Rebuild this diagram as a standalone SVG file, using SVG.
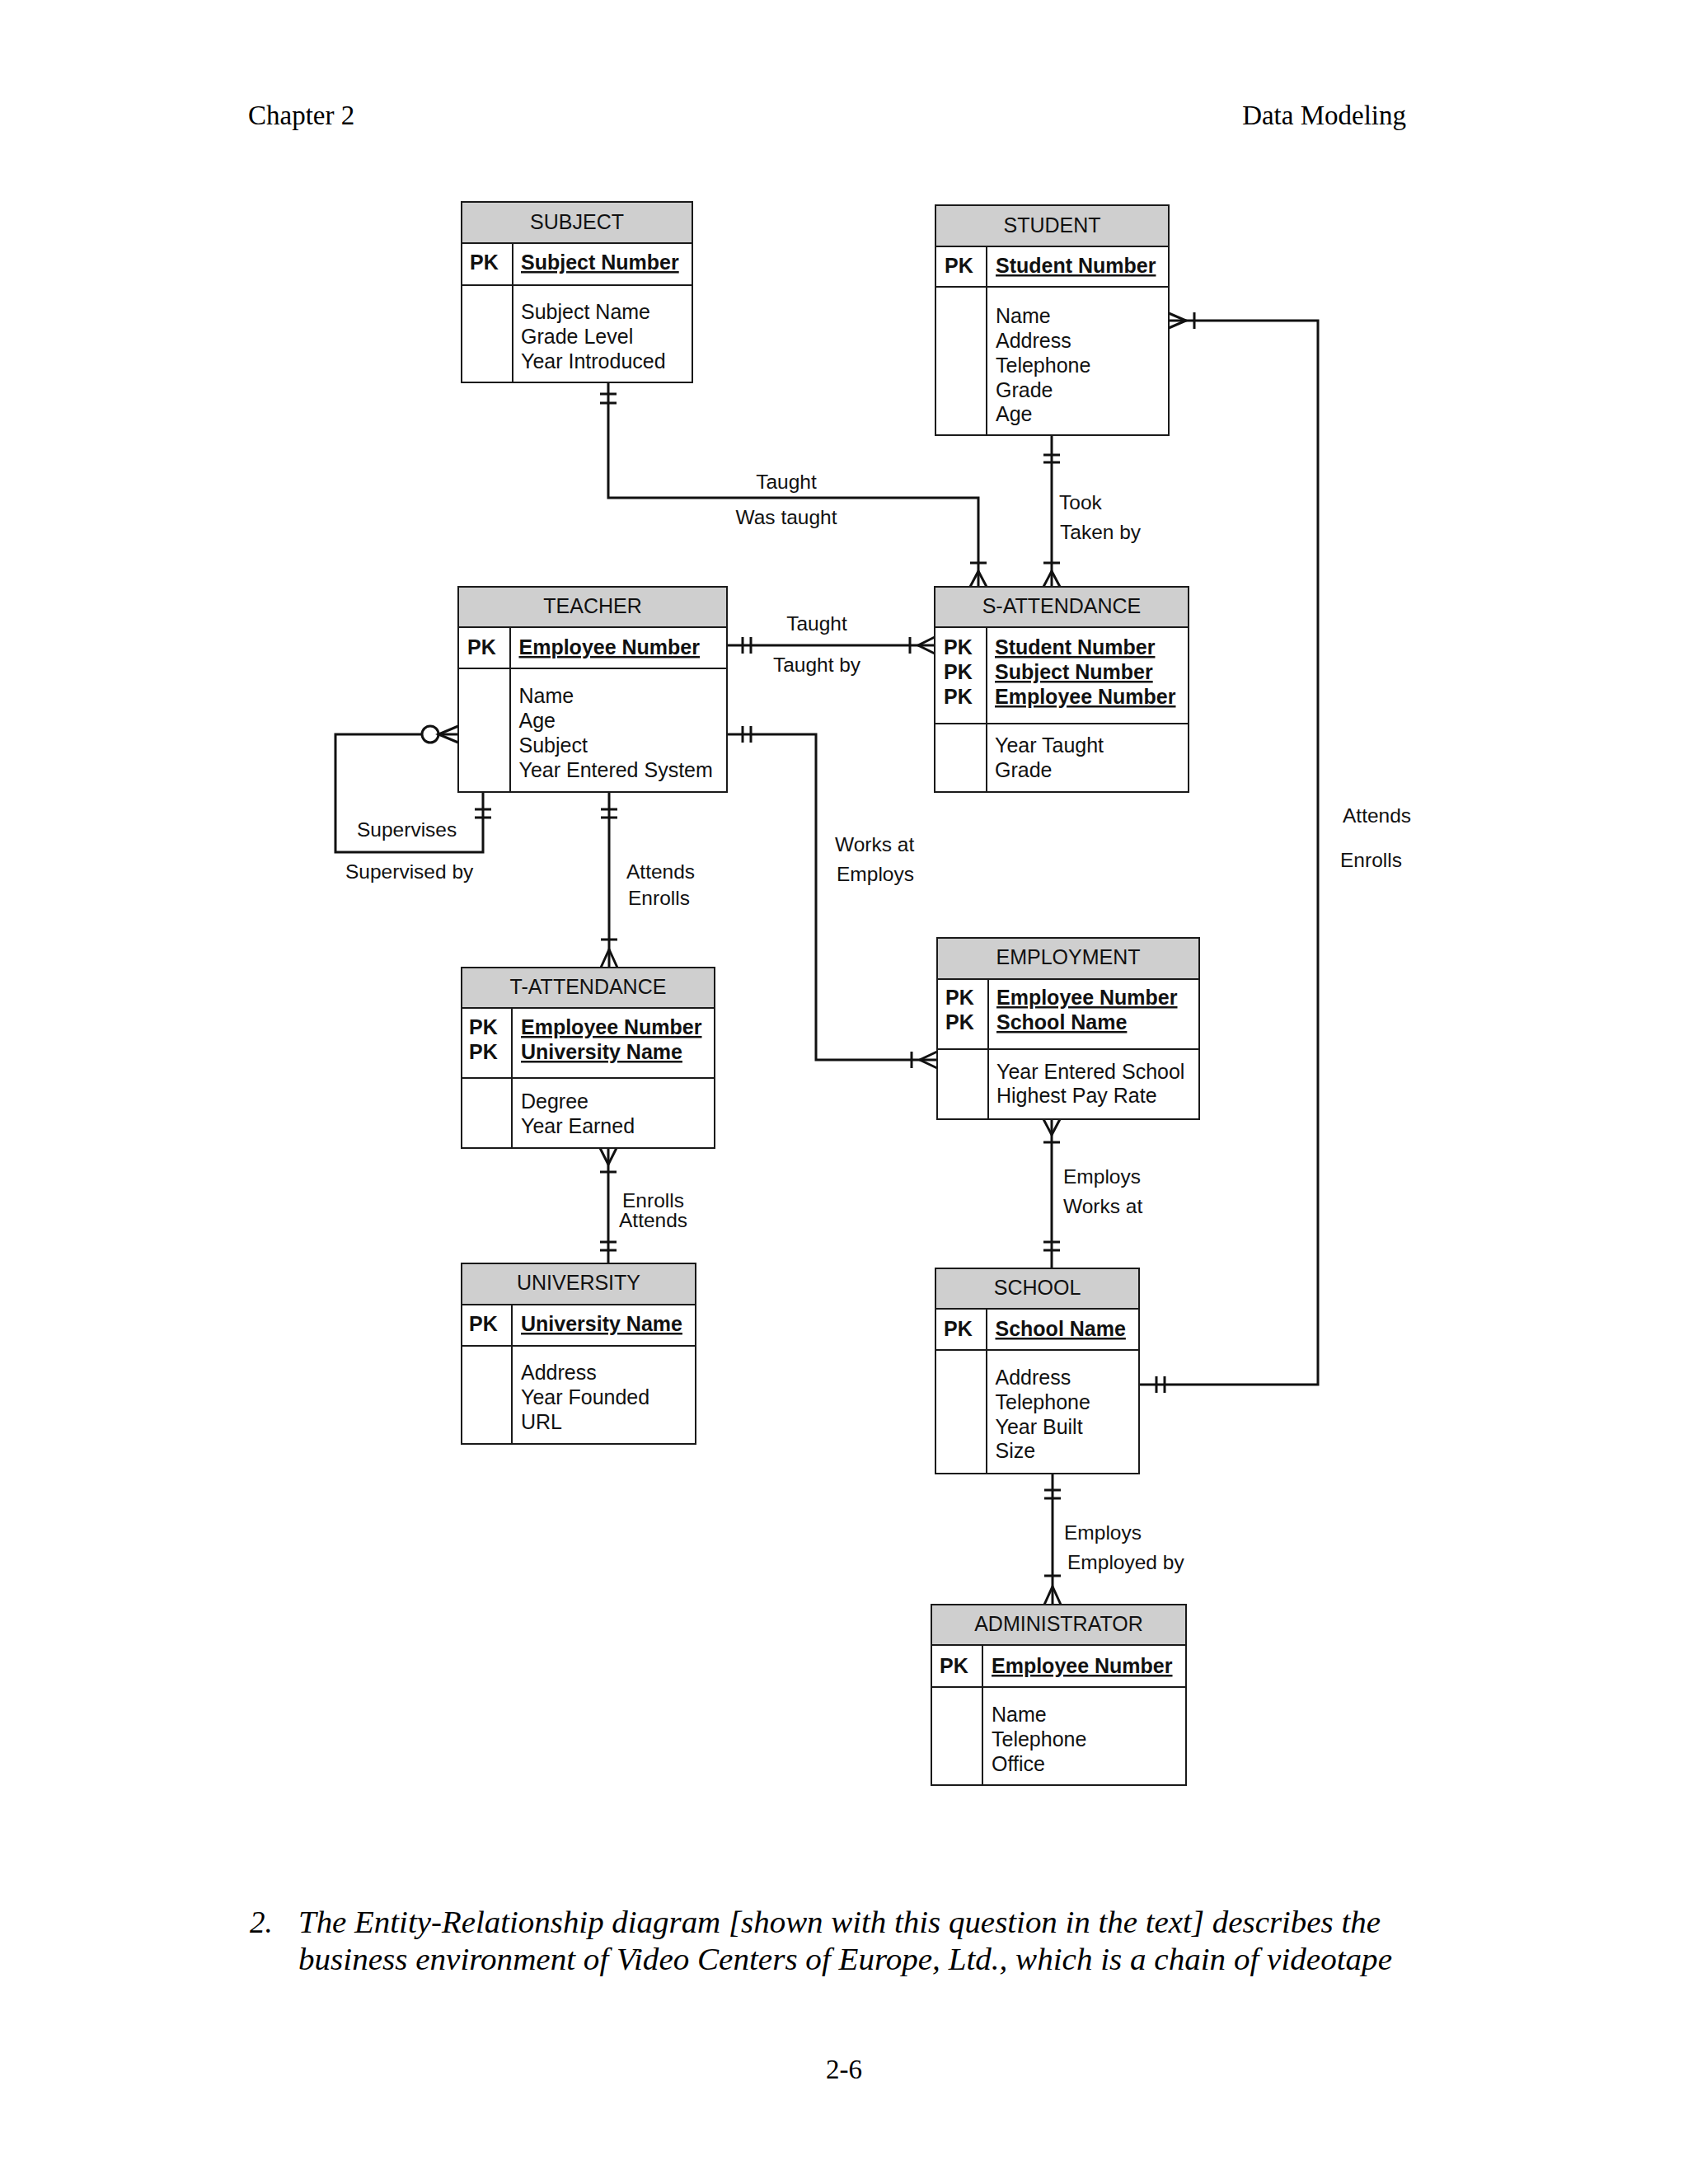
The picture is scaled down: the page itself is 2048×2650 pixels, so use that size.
<svg xmlns="http://www.w3.org/2000/svg" width="2048" height="2650" viewBox="0 0 2048 2650">
<style>
.bg{fill:#fff}
.box{fill:#fff;stroke:#1a1a1a;stroke-width:2}
.hdr{fill:#cfcfcf;stroke:#1a1a1a;stroke-width:2}
.sep{stroke:#1a1a1a;stroke-width:2}
.t{font-family:"Liberation Sans",Arial,sans-serif;font-size:25px;fill:#111}
.b{font-weight:bold}
.u{text-decoration:underline}
.c{text-anchor:middle}
.lbl{font-family:"Liberation Sans",Arial,sans-serif;font-size:24.5px;fill:#111}
.ln{fill:none;stroke:#111;stroke-width:3}
.mk{fill:none;stroke:#111;stroke-width:3}
.pg{font-family:"Liberation Serif","Times New Roman",serif;font-size:33px;fill:#000}
.q{font-family:"Liberation Serif","Times New Roman",serif;font-size:37px;font-style:italic;fill:#000}
</style>
<rect class="bg" x="0" y="0" width="2048" height="2650"/>

<g id="page">
<text class="pg" x="301" y="151">Chapter 2</text>
<text class="pg" x="1706" y="151" text-anchor="end">Data Modeling</text>
<text class="q" x="303" y="2345">2.</text>
<text class="q" x="362" y="2345" textLength="1313" lengthAdjust="spacingAndGlyphs">The Entity-Relationship diagram [shown with this question in the text] describes the</text>
<text class="q" x="362" y="2390" textLength="1327" lengthAdjust="spacingAndGlyphs">business environment of Video Centers of Europe, Ltd., which is a chain of videotape</text>
<text class="pg" x="1024" y="2522" text-anchor="middle">2-6</text>
</g>

<g id="connectors">
<!-- SUBJECT - S-ATTENDANCE -->
<path class="ln" d="M738,464 V604 H1187 V712"/>
<path class="mk" d="M728,478 H748 M728,489 H748 M1177,683 H1197 M1177,712 L1187,693 L1197,712"/>
<!-- STUDENT - S-ATTENDANCE -->
<path class="ln" d="M1276,528 V712"/>
<path class="mk" d="M1266,552 H1286 M1266,561 H1286 M1266,683 H1286 M1266,712 L1276,693 L1286,712"/>
<!-- TEACHER - S-ATTENDANCE -->
<path class="ln" d="M882,783 H1134"/>
<path class="mk" d="M901,773 V793 M911,773 V793 M1104,773 V793 M1134,773 L1114,783 L1134,793"/>
<!-- TEACHER self (supervises) -->
<path class="ln" d="M556,891 H407 V1034 H586 V961"/>
<circle cx="522" cy="891" r="10" fill="#fff" stroke="#111" stroke-width="3"/>
<path class="mk" d="M556,881 L532,891 L556,901 M576,982 H596 M576,992 H596"/>
<!-- TEACHER - T-ATTENDANCE -->
<path class="ln" d="M739,961 V1174"/>
<path class="mk" d="M729,982 H749 M729,992 H749 M729,1140 H749 M729,1174 L739,1152 L749,1174"/>
<!-- TEACHER - EMPLOYMENT -->
<path class="ln" d="M882,891 H990 V1286 H1137"/>
<path class="mk" d="M901,881 V901 M911,881 V901 M1106,1276 V1296 M1137,1276 L1116,1286 L1137,1296"/>
<!-- T-ATTENDANCE - UNIVERSITY -->
<path class="ln" d="M738,1393 V1533"/>
<path class="mk" d="M728,1393 L738,1413 L748,1393 M728,1422 H748 M728,1507 H748 M728,1517 H748"/>
<!-- EMPLOYMENT - SCHOOL -->
<path class="ln" d="M1276,1358 V1539"/>
<path class="mk" d="M1266,1358 L1276,1377 L1286,1358 M1266,1386 H1286 M1266,1507 H1286 M1266,1517 H1286"/>
<!-- SCHOOL - ADMINISTRATOR -->
<path class="ln" d="M1277,1788 V1947"/>
<path class="mk" d="M1267,1808 H1287 M1267,1818 H1287 M1267,1912 H1287 M1267,1947 L1277,1925 L1287,1947"/>
<!-- STUDENT - SCHOOL -->
<path class="ln" d="M1418,389 H1599 V1680 H1382"/>
<path class="mk" d="M1418,380 L1439,389 L1418,398 M1449,379 V399 M1403,1670 V1690 M1413,1670 V1690"/>

<text class="lbl c" x="954" y="593">Taught</text>
<text class="lbl c" x="954" y="636">Was taught</text>
<text class="lbl" x="1285" y="618">Took</text>
<text class="lbl" x="1286" y="654">Taken by</text>
<text class="lbl c" x="991" y="765">Taught</text>
<text class="lbl c" x="991" y="815">Taught by</text>
<text class="lbl" x="433" y="1015">Supervises</text>
<text class="lbl" x="419" y="1066">Supervised by</text>
<text class="lbl" x="760" y="1066">Attends</text>
<text class="lbl" x="762" y="1098">Enrolls</text>
<text class="lbl" x="1013" y="1033">Works at</text>
<text class="lbl" x="1015" y="1069">Employs</text>
<text class="lbl" x="755" y="1465">Enrolls</text>
<text class="lbl" x="751" y="1489">Attends</text>
<text class="lbl" x="1290" y="1436">Employs</text>
<text class="lbl" x="1290" y="1472">Works at</text>
<text class="lbl" x="1291" y="1868">Employs</text>
<text class="lbl" x="1295" y="1904">Employed by</text>
<text class="lbl" x="1629" y="998">Attends</text>
<text class="lbl" x="1626" y="1052">Enrolls</text>
</g>

<g id="subject">
<rect class="box" x="560" y="245" width="280" height="219"/>
<rect class="hdr" x="560" y="245" width="280" height="50"/>
<line class="sep" x1="560" y1="346" x2="840" y2="346"/>
<line class="sep" x1="622" y1="295" x2="622" y2="464"/>
<text class="t c" x="700" y="278">SUBJECT</text>
<text class="t b" x="570" y="327">PK</text>
<text class="t b u" x="632" y="327">Subject Number</text>
<text class="t" x="632" y="387">Subject Name</text>
<text class="t" x="632" y="417">Grade Level</text>
<text class="t" x="632" y="447">Year Introduced</text>
</g>

<g id="student">
<rect class="box" x="1135" y="249" width="283" height="279"/>
<rect class="hdr" x="1135" y="249" width="283" height="50"/>
<line class="sep" x1="1135" y1="348" x2="1418" y2="348"/>
<line class="sep" x1="1197" y1="299" x2="1197" y2="528"/>
<text class="t c" x="1276.5" y="282">STUDENT</text>
<text class="t b" x="1146" y="331">PK</text>
<text class="t b u" x="1208" y="331">Student Number</text>
<text class="t" x="1208" y="392">Name</text>
<text class="t" x="1208" y="422">Address</text>
<text class="t" x="1208" y="452">Telephone</text>
<text class="t" x="1208" y="482">Grade</text>
<text class="t" x="1208" y="511">Age</text>
</g>

<g id="teacher">
<rect class="box" x="556" y="712" width="326" height="249"/>
<rect class="hdr" x="556" y="712" width="326" height="49"/>
<line class="sep" x1="556" y1="811" x2="882" y2="811"/>
<line class="sep" x1="619" y1="761" x2="619" y2="961"/>
<text class="t c" x="719" y="744">TEACHER</text>
<text class="t b" x="567" y="794">PK</text>
<text class="t b u" x="629.5" y="794">Employee Number</text>
<text class="t" x="629.5" y="853">Name</text>
<text class="t" x="629.5" y="883">Age</text>
<text class="t" x="629.5" y="913">Subject</text>
<text class="t" x="629.5" y="943">Year Entered System</text>
</g>

<g id="s-attendance">
<rect class="box" x="1134" y="712" width="308" height="249"/>
<rect class="hdr" x="1134" y="712" width="308" height="49"/>
<line class="sep" x1="1134" y1="878" x2="1442" y2="878"/>
<line class="sep" x1="1197" y1="761" x2="1197" y2="961"/>
<text class="t c" x="1288" y="744">S-ATTENDANCE</text>
<text class="t b" x="1145" y="794">PK</text>
<text class="t b" x="1145" y="824">PK</text>
<text class="t b" x="1145" y="854">PK</text>
<text class="t b u" x="1207" y="794">Student Number</text>
<text class="t b u" x="1207" y="824">Subject Number</text>
<text class="t b u" x="1207" y="854">Employee Number</text>
<text class="t" x="1207" y="913">Year Taught</text>
<text class="t" x="1207" y="943">Grade</text>
</g>

<g id="t-attendance">
<rect class="box" x="560" y="1174" width="307" height="219"/>
<rect class="hdr" x="560" y="1174" width="307" height="49"/>
<line class="sep" x1="560" y1="1308" x2="867" y2="1308"/>
<line class="sep" x1="621" y1="1223" x2="621" y2="1393"/>
<text class="t c" x="713.5" y="1206">T-ATTENDANCE</text>
<text class="t b" x="569" y="1255">PK</text>
<text class="t b" x="569" y="1285">PK</text>
<text class="t b u" x="632" y="1255">Employee Number</text>
<text class="t b u" x="632" y="1285">University Name</text>
<text class="t" x="632" y="1345">Degree</text>
<text class="t" x="632" y="1375">Year Earned</text>
</g>

<g id="employment">
<rect class="box" x="1137" y="1138" width="318" height="220"/>
<rect class="hdr" x="1137" y="1138" width="318" height="50"/>
<line class="sep" x1="1137" y1="1273" x2="1455" y2="1273"/>
<line class="sep" x1="1199" y1="1188" x2="1199" y2="1358"/>
<text class="t c" x="1296" y="1170">EMPLOYMENT</text>
<text class="t b" x="1147" y="1219">PK</text>
<text class="t b" x="1147" y="1249">PK</text>
<text class="t b u" x="1209" y="1219">Employee Number</text>
<text class="t b u" x="1209" y="1249">School Name</text>
<text class="t" x="1209" y="1309">Year Entered School</text>
<text class="t" x="1209" y="1338">Highest Pay Rate</text>
</g>

<g id="university">
<rect class="box" x="560" y="1533" width="284" height="219"/>
<rect class="hdr" x="560" y="1533" width="284" height="50"/>
<line class="sep" x1="560" y1="1633" x2="844" y2="1633"/>
<line class="sep" x1="621" y1="1583" x2="621" y2="1752"/>
<text class="t c" x="702" y="1565">UNIVERSITY</text>
<text class="t b" x="569" y="1615">PK</text>
<text class="t b u" x="632" y="1615">University Name</text>
<text class="t" x="632" y="1674">Address</text>
<text class="t" x="632" y="1704">Year Founded</text>
<text class="t" x="632" y="1734">URL</text>
</g>

<g id="school">
<rect class="box" x="1135" y="1539" width="247" height="249"/>
<rect class="hdr" x="1135" y="1539" width="247" height="49"/>
<line class="sep" x1="1135" y1="1638" x2="1382" y2="1638"/>
<line class="sep" x1="1197" y1="1588" x2="1197" y2="1788"/>
<text class="t c" x="1258.5" y="1571">SCHOOL</text>
<text class="t b" x="1145" y="1621">PK</text>
<text class="t b u" x="1207.5" y="1621">School Name</text>
<text class="t" x="1207.5" y="1680">Address</text>
<text class="t" x="1207.5" y="1710">Telephone</text>
<text class="t" x="1207.5" y="1740">Year Built</text>
<text class="t" x="1207.5" y="1769">Size</text>
</g>

<g id="administrator">
<rect class="box" x="1130" y="1947" width="309" height="219"/>
<rect class="hdr" x="1130" y="1947" width="309" height="49"/>
<line class="sep" x1="1130" y1="2047" x2="1439" y2="2047"/>
<line class="sep" x1="1192" y1="1996" x2="1192" y2="2166"/>
<text class="t c" x="1284.5" y="1979">ADMINISTRATOR</text>
<text class="t b" x="1140" y="2030">PK</text>
<text class="t b u" x="1203" y="2030">Employee Number</text>
<text class="t" x="1203" y="2089">Name</text>
<text class="t" x="1203" y="2119">Telephone</text>
<text class="t" x="1203" y="2149">Office</text>
</g>
</svg>
